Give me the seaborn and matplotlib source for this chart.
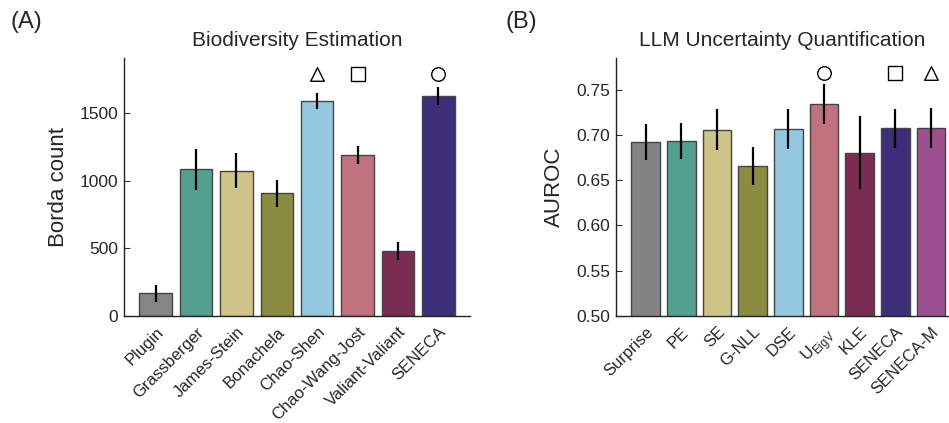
import matplotlib
matplotlib.use("Agg")
import matplotlib.pyplot as plt
import seaborn as sns
import pandas as pd
import numpy as np

sns.set_theme(style="ticks")
plt.rcParams['font.family'] = ['Liberation Sans', 'DejaVu Sans']
plt.rcParams['mathtext.fontset'] = 'custom'
plt.rcParams['mathtext.rm'] = 'Liberation Sans'

# Panel A data
bio_methods = ["Plugin", "Grassberger", "James-Stein", "Bonachela", "Chao-Shen",
               "Chao-Wang-Jost", "Valiant-Valiant", "SENECA"]
bio_borda = [168, 1084, 1074, 907, 1587, 1190, 480, 1626]
bio_err = [62, 150, 132, 100, 56, 64, 70, 68]
bio_colors = ["#858585", "#529e8f", "#cfc487", "#8b8b42", "#94c8e0",
              "#c0727f", "#7b2c52", "#3c2e78"]
bio_marks = {"Chao-Shen": "^", "Chao-Wang-Jost": "s", "SENECA": "o"}
bio_mark_y = 1790

# Panel B data
llm_methods = ["Surprise", "PE", "SE", "G-NLL", "DSE", r"U$_\mathregular{EigV}$",
               "KLE", "SENECA", "SENECA-M"]
llm_auroc = [0.6924, 0.6932, 0.7057, 0.6657, 0.7064, 0.7338, 0.6806, 0.7072, 0.7079]
llm_err = [0.020, 0.0197, 0.0228, 0.0211, 0.022, 0.0222, 0.0404, 0.0218, 0.0219]
llm_colors = ["#838383", "#529e8f", "#cfc487", "#8b8b42", "#94c8e0",
              "#c0727f", "#7b2c52", "#3c2e78", "#9c5090"]
llm_marks = {r"U$_\mathregular{EigV}$": "o", "SENECA": "s", "SENECA-M": "^"}
llm_mark_y = 0.7686

fig = plt.figure(figsize=(9.49, 4.23), dpi=100)
axA = fig.add_axes([124/949, 1-316/423, (470-124)/949, (316-58)/423])
axB = fig.add_axes([616/949, 1-316/423, (949-616)/949, (316-58)/423])


def draw(ax, cats, vals, errs, cols, marks, mark_y, ylim, xlim):
    df = pd.DataFrame({"cat": cats, "val": vals})
    sns.barplot(data=df, x="cat", y="val", hue="cat", palette=cols, legend=False,
                ax=ax, width=0.8, edgecolor="#444444", linewidth=1.0, errorbar=None,
                saturation=1)
    ax.errorbar(np.arange(len(cats)), vals, yerr=errs, fmt="none", ecolor="black",
                elinewidth=1.6, capsize=0, zorder=5)
    for c, m in marks.items():
        ax.scatter([cats.index(c)], [mark_y], marker=m, s=95, facecolor="white",
                   edgecolor="black", linewidth=1.0, zorder=6, clip_on=False)
    ax.set_ylim(*ylim)
    ax.set_xlim(*xlim)
    ax.set_xlabel("")
    ax.tick_params(axis="both", direction="in", length=4, width=0.8, color="#333333")
    ax.tick_params(axis="y", labelsize=12.5, pad=4)
    ax.tick_params(axis="x", labelsize=12, pad=6)
    for lab in ax.get_xticklabels():
        lab.set_rotation(45)
        lab.set_ha("right")
        lab.set_rotation_mode("anchor")
    sns.despine(ax=ax)
    for s in ["left", "bottom"]:
        ax.spines[s].set_linewidth(1.0)
        ax.spines[s].set_color("#222222")


draw(axA, bio_methods, bio_borda, bio_err, bio_colors, bio_marks, bio_mark_y,
     (0, 1905), (-0.78, 7.78))
axA.set_yticks([0, 500, 1000, 1500])
axA.set_ylabel("Borda count", fontsize=16, labelpad=8)
axA.set_title("Biodiversity Estimation", fontsize=15, pad=9)

draw(axB, llm_methods, llm_auroc, llm_err, llm_colors, llm_marks, llm_mark_y,
     (0.5, 0.785), (-0.83, 8.5))
axB.set_yticks([0.50, 0.55, 0.60, 0.65, 0.70, 0.75])
axB.set_yticklabels(["0.50", "0.55", "0.60", "0.65", "0.70", "0.75"])
axB.set_ylabel("AUROC", fontsize=16, labelpad=8)
axB.set_title("LLM Uncertainty Quantification", fontsize=15, pad=9)

fig.text(10/949, 1-22/423, "(A)", fontsize=17, va="center", ha="left")
fig.text(505/949, 1-22/423, "(B)", fontsize=17, va="center", ha="left")

fig.savefig("out.png", dpi=100)
